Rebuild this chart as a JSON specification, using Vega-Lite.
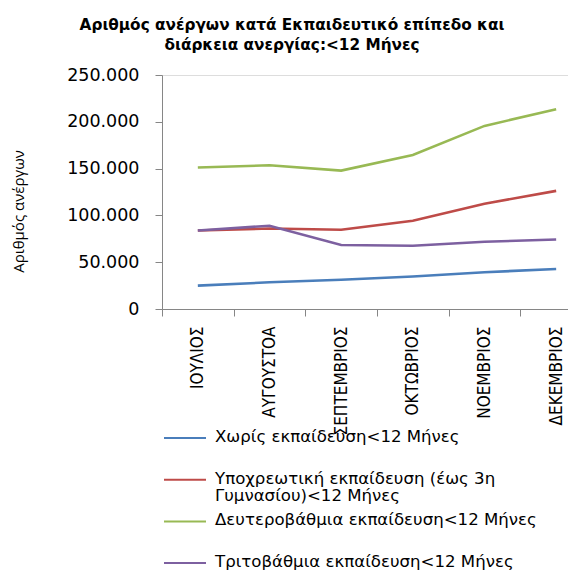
{
  "$schema": "https://vega.github.io/schema/vega-lite/v6.json",
  "autosize": "none",
  "width": 406,
  "height": 234,
  "padding": {"left": 162, "top": 75, "right": 0, "bottom": 263},
  "background": "white",
  "title": {
    "text": ["Αριθμός ανέργων κατά  Εκπαιδευτικό επίπεδο και", "διάρκεια ανεργίας:<12 Μήνες"],
    "font": "DejaVu Sans",
    "fontSize": 15.3,
    "fontWeight": "bold",
    "color": "#000000",
    "anchor": "middle",
    "frame": "group",
    "dx": -73,
    "offset": 13,
    "lineHeight": 20
  },
  "data": {
    "values": [
      {"month": "ΙΟΥΛΙΟΣ", "series": "Χωρίς εκπαίδευση<12 Μήνες", "value": 25000},
      {"month": "ΑΥΓΟΥΣΤΟΑ", "series": "Χωρίς εκπαίδευση<12 Μήνες", "value": 28500},
      {"month": "ΣΕΠΤΕΜΒΡΙΟΣ", "series": "Χωρίς εκπαίδευση<12 Μήνες", "value": 31300},
      {"month": "ΟΚΤΩΒΡΙΟΣ", "series": "Χωρίς εκπαίδευση<12 Μήνες", "value": 34800},
      {"month": "ΝΟΕΜΒΡΙΟΣ", "series": "Χωρίς εκπαίδευση<12 Μήνες", "value": 39300},
      {"month": "ΔΕΚΕΜΒΡΙΟΣ", "series": "Χωρίς εκπαίδευση<12 Μήνες", "value": 42700},
      {"month": "ΙΟΥΛΙΟΣ", "series": "Υποχρεωτική εκπαίδευση (έως 3η Γυμνασίου)<12 Μήνες", "value": 83900},
      {"month": "ΑΥΓΟΥΣΤΟΑ", "series": "Υποχρεωτική εκπαίδευση (έως 3η Γυμνασίου)<12 Μήνες", "value": 86000},
      {"month": "ΣΕΠΤΕΜΒΡΙΟΣ", "series": "Υποχρεωτική εκπαίδευση (έως 3η Γυμνασίου)<12 Μήνες", "value": 84600},
      {"month": "ΟΚΤΩΒΡΙΟΣ", "series": "Υποχρεωτική εκπαίδευση (έως 3η Γυμνασίου)<12 Μήνες", "value": 94200},
      {"month": "ΝΟΕΜΒΡΙΟΣ", "series": "Υποχρεωτική εκπαίδευση (έως 3η Γυμνασίου)<12 Μήνες", "value": 112500},
      {"month": "ΔΕΚΕΜΒΡΙΟΣ", "series": "Υποχρεωτική εκπαίδευση (έως 3η Γυμνασίου)<12 Μήνες", "value": 126200},
      {"month": "ΙΟΥΛΙΟΣ", "series": "Δευτεροβάθμια εκπαίδευση<12 Μήνες", "value": 151100},
      {"month": "ΑΥΓΟΥΣΤΟΑ", "series": "Δευτεροβάθμια εκπαίδευση<12 Μήνες", "value": 153500},
      {"month": "ΣΕΠΤΕΜΒΡΙΟΣ", "series": "Δευτεροβάθμια εκπαίδευση<12 Μήνες", "value": 147900},
      {"month": "ΟΚΤΩΒΡΙΟΣ", "series": "Δευτεροβάθμια εκπαίδευση<12 Μήνες", "value": 164600},
      {"month": "ΝΟΕΜΒΡΙΟΣ", "series": "Δευτεροβάθμια εκπαίδευση<12 Μήνες", "value": 195600},
      {"month": "ΔΕΚΕΜΒΡΙΟΣ", "series": "Δευτεροβάθμια εκπαίδευση<12 Μήνες", "value": 213400},
      {"month": "ΙΟΥΛΙΟΣ", "series": "Τριτοβάθμια εκπαίδευση<12 Μήνες", "value": 83900},
      {"month": "ΑΥΓΟΥΣΤΟΑ", "series": "Τριτοβάθμια εκπαίδευση<12 Μήνες", "value": 88900},
      {"month": "ΣΕΠΤΕΜΒΡΙΟΣ", "series": "Τριτοβάθμια εκπαίδευση<12 Μήνες", "value": 68300},
      {"month": "ΟΚΤΩΒΡΙΟΣ", "series": "Τριτοβάθμια εκπαίδευση<12 Μήνες", "value": 67500},
      {"month": "ΝΟΕΜΒΡΙΟΣ", "series": "Τριτοβάθμια εκπαίδευση<12 Μήνες", "value": 71800},
      {"month": "ΔΕΚΕΜΒΡΙΟΣ", "series": "Τριτοβάθμια εκπαίδευση<12 Μήνες", "value": 74300}
    ]
  },
  "mark": {"type": "line", "strokeWidth": 2.6},
  "encoding": {
    "x": {
      "field": "month",
      "type": "nominal",
      "sort": ["ΙΟΥΛΙΟΣ", "ΑΥΓΟΥΣΤΟΑ", "ΣΕΠΤΕΜΒΡΙΟΣ", "ΟΚΤΩΒΡΙΟΣ", "ΝΟΕΜΒΡΙΟΣ", "ΔΕΚΕΜΒΡΙΟΣ"],
      "scale": {"type": "band", "range": [0, 430], "paddingInner": 0, "paddingOuter": 0},
      "axis": {
        "title": null,
        "labelAngle": 270,
        "labelAlign": "right",
        "labelBaseline": "middle",
        "labelFont": "DejaVu Sans Condensed",
        "labelFontSize": 17,
        "labelColor": "#000000",
        "labelPadding": 10,
        "tickBand": "extent",
        "tickSize": 7,
        "tickColor": "#868686",
        "domainColor": "#868686",
        "grid": false
      }
    },
    "y": {
      "field": "value",
      "type": "quantitative",
      "scale": {"domain": [0, 250000], "nice": false},
      "axis": {
        "title": "Αριθμός ανέργων",
        "titleFont": "Open Sans",
        "titleFontSize": 15,
        "titleFontWeight": "normal",
        "titleColor": "#000000",
        "titleX": -144,
        "titleY": 136,
        "titleBaseline": "middle",
        "values": [0, 50000, 100000, 150000, 200000, 250000],
        "labelExpr": "replace(format(datum.value, ','), ',', '.')",
        "labelFont": "DejaVu Sans",
        "labelFontSize": 17.5,
        "labelColor": "#000000",
        "labelPadding": 16,
        "tickSize": 7,
        "tickColor": "#868686",
        "domainColor": "#868686",
        "grid": false
      }
    },
    "color": {
      "field": "series",
      "type": "nominal",
      "scale": {
        "domain": ["Χωρίς εκπαίδευση<12 Μήνες", "Υποχρεωτική εκπαίδευση (έως 3η Γυμνασίου)<12 Μήνες", "Δευτεροβάθμια εκπαίδευση<12 Μήνες", "Τριτοβάθμια εκπαίδευση<12 Μήνες"],
        "range": ["#4A7EBB", "#BE4B48", "#98B954", "#7D60A0"]
      },
      "legend": {
        "title": null,
        "orient": "none",
        "legendX": 1,
        "legendY": 353,
        "symbolType": "stroke",
        "symbolSize": 1764,
        "symbolStrokeWidth": 2,
        "clipHeight": 20,
        "labelOffset": 8,
        "labelFont": "DejaVu Sans",
        "labelFontSize": 16.6,
        "labelColor": "#000000",
        "labelLimit": 500,
        "labelBaseline": "top",
        "rowPadding": 6.7,
        "labelExpr": "datum.label == 'Υποχρεωτική εκπαίδευση (έως 3η Γυμνασίου)<12 Μήνες' ? ['Υποχρεωτική εκπαίδευση (έως 3η', 'Γυμνασίου)<12 Μήνες'] : [datum.label, ' ']",
        "encode": {
          "labels": {"update": {"dy": {"value": -9}, "lineHeight": {"value": 17}}}
        }
      }
    }
  }
}
